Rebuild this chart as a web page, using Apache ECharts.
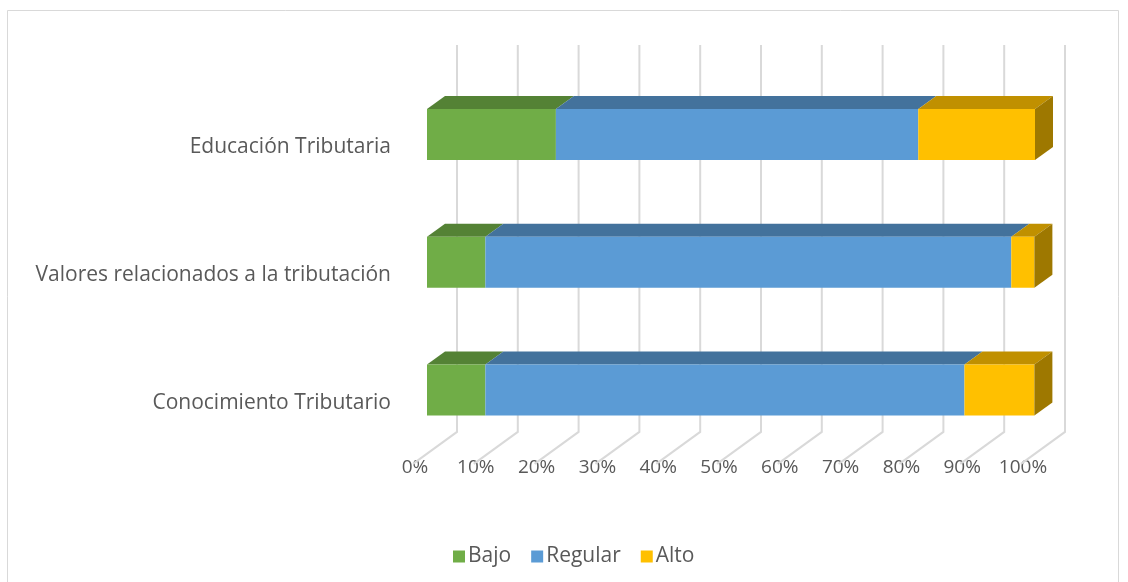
<!DOCTYPE html>
<html>
<head>
<meta charset="utf-8">
<script src="https://cdn.jsdelivr.net/npm/echarts@6/dist/echarts.min.js"></script>
<style>
html,body{margin:0;padding:0;background:#fff;}
#chart{width:1128px;height:582px;}
</style>
</head>
<body>
<div id="chart"></div>
<script>
// Data (percentages)
const categories = ['Educación Tributaria', 'Valores relacionados a la tributación', 'Conocimiento Tributario'];
const bajo = [21.2, 9.6, 9.6];
const regular = [59.6, 86.5, 78.8];
const alto = [19.2, 3.8, 11.5];
const tickValues = [0, 10, 20, 30, 40, 50, 60, 70, 80, 90, 100];
const seriesNames = ['Bajo', 'Regular', 'Alto'];

const FONT = 'Open Sans';
const TXT = '#595959';
const DX = 18, DY = -13;

function stackData(arrs, idx) {
  return categories.map((c, i) => {
    let s = 0;
    for (let k = 0; k < idx; k++) s += arrs[k][i];
    return [i, s, s + arrs[idx][i]];
  });
}
const all = [bajo, regular, alto];

function makeRender(front, top, side, drawSide) {
  return function (params, api) {
    const cat = api.value(0), s = api.value(1), e = api.value(2);
    const p0 = api.coord([s, cat]);
    const p1 = api.coord([e, cat]);
    const band = api.size([0, 1])[1];
    const h = band * 0.4;
    const y0 = p0[1] - h / 2, y1 = p0[1] + h / 2;
    const children = [
      { type: 'polygon', shape: { points: [[p0[0], y0], [p0[0] + DX, y0 + DY], [p1[0] + DX, y0 + DY], [p1[0], y0]] }, style: { fill: top } },
      { type: 'rect', shape: { x: p0[0], y: y0, width: p1[0] - p0[0], height: h }, style: { fill: front } }
    ];
    if (drawSide) {
      children.push({ type: 'polygon', shape: { points: [[p1[0], y0], [p1[0] + DX, y0 + DY], [p1[0] + DX, y1 + DY], [p1[0], y1]] }, style: { fill: side } });
    }
    return { type: 'group', children };
  };
}

const palette = [
  { front: '#70AD47', top: '#548235', side: '#4E7A31' },
  { front: '#5B9BD5', top: '#43729C', side: '#3E6A92' },
  { front: '#FFC000', top: '#C09000', side: '#9E7800' }
];

const chart = echarts.init(document.getElementById('chart'), null, { renderer: 'canvas' });

const series = [{
  type: 'custom',
  name: 'grid3d',
  silent: true,
  z: 1,
  data: tickValues.map(v => [v, 0]),
  encode: { x: 0, y: 1 },
  renderItem: function (params, api) {
    const cs = params.coordSys;
    const x = api.coord([api.value(0), 0])[0];
    const top = cs.y - 25.6;
    const back = cs.y + cs.height - 22;
    const front = cs.y + cs.height + 10;
    return {
      type: 'polyline',
      shape: { points: [[x + 30, top], [x + 30, back], [x - 14, front]] },
      style: { stroke: '#D9D9D9', lineWidth: 2, fill: null }
    };
  }
}];

seriesNames.forEach((n, i) => {
  series.push({
    type: 'custom',
    name: n,
    z: 2 + i,
    itemStyle: { color: palette[i].front },
    data: stackData(all, i),
    encode: { x: [1, 2], y: 0 },
    renderItem: makeRender(palette[i].front, palette[i].top, palette[i].side, i === seriesNames.length - 1)
  });
});

chart.setOption({
  animation: false,
  backgroundColor: '#fff',
  textStyle: { fontFamily: FONT },
  graphic: [{
    type: 'rect',
    shape: { x: 7.5, y: 10.5, width: 1111, height: 600 },
    style: { fill: null, stroke: '#D9D9D9', lineWidth: 1 },
    silent: true
  }],
  grid: { left: 427, right: 93, top: 70.6, bottom: 128.1, containLabel: false },
  xAxis: {
    type: 'value', min: 0, max: 100, interval: 10,
    axisLine: { show: false }, axisTick: { show: false }, splitLine: { show: false },
    axisLabel: { formatter: '{value}%', color: TXT, fontSize: 19, fontFamily: FONT, margin: 4, padding: [0, 24, 0, 0] }
  },
  yAxis: {
    type: 'category', data: categories, inverse: true,
    axisLine: { show: false }, axisTick: { show: false }, splitLine: { show: false },
    axisLabel: { color: TXT, fontSize: 21, fontFamily: FONT, margin: 36, verticalAlign: 'top', lineHeight: 25 }
  },
  legend: {
    data: seriesNames.map(n => ({ name: n, icon: 'rect' })),
    left: 448, top: 541,
    itemWidth: 12, itemHeight: 12, itemGap: 20,
    textStyle: { color: TXT, fontSize: 21, fontFamily: FONT, padding: [0, 0, 0, -2] }
  },
  series
});
</script>
</body>
</html>
